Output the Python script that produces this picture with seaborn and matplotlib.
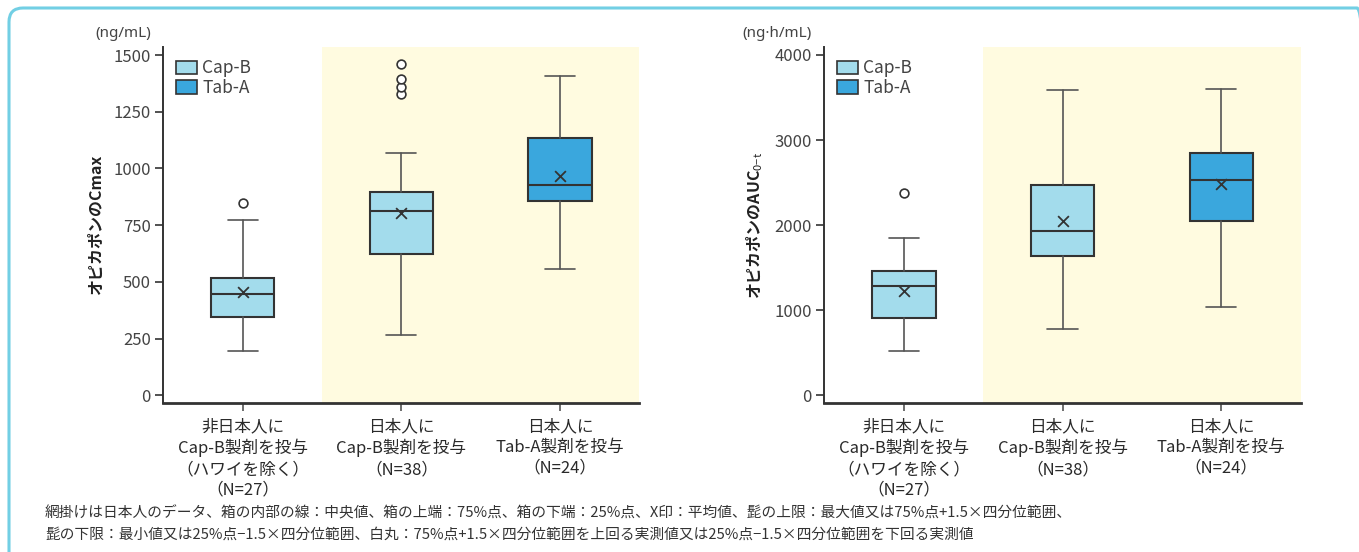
import numpy as np
import pandas as pd
import matplotlib
matplotlib.use("Agg")
import matplotlib.pyplot as plt
from matplotlib.patches import Patch, FancyBboxPatch
import seaborn as sns

# ---------------- data ----------------
groups = ["非日本人に\nCap-B製剤を投与\n（ハワイを除く）\n（N=27）",
          "日本人に\nCap-B製剤を投与\n（N=38）",
          "日本人に\nTab-A製剤を投与\n（N=24）"]
formulation = ["Cap-B", "Cap-B", "Tab-A"]

cmax_whislo = [195, 265, 559]
cmax_q1 = [346, 623, 858]
cmax_med = [447, 814, 928]
cmax_q3 = [519, 895, 1133]
cmax_whishi = [773, 1068, 1409]
cmax_mean = [456, 802, 969]
cmax_fliers = [[850], [1329, 1361, 1395, 1461], []]

auc_whislo = [520, 778, 1044]
auc_q1 = [911, 1634, 2045]
auc_med = [1290, 1927, 2526]
auc_q3 = [1462, 2467, 2854]
auc_whishi = [1851, 3590, 3601]
auc_mean = [1232, 2052, 2483]
auc_fliers = [[2378], [], []]

colors = {"Cap-B": "#a3dcec", "Tab-A": "#3aa7dd"}
SHADE = "#fffbe0"
DARK = "#333333"

sns.set_theme(style="ticks")
plt.rcParams["font.family"] = ["Noto Sans CJK JP", "DejaVu Sans"]
plt.rcParams["mathtext.fontset"] = "custom"
plt.rcParams["mathtext.rm"] = "Noto Sans CJK JP"
plt.rcParams["mathtext.it"] = "Noto Sans CJK JP"


def make_stats(whislo, q1, med, q3, whishi, mean, fliers):
    return [dict(whislo=a, q1=b, med=c, q3=d, whishi=e, mean=m, fliers=f, label="")
            for a, b, c, d, e, m, f in zip(whislo, q1, med, q3, whishi, mean, fliers)]


def plot_panel(ax, stats, ylim, yticks, unit, ylabel):
    ax.axvspan(0.5, 2.5, color=SHADE, zorder=0, lw=0)
    bp = ax.bxp(stats, positions=range(len(stats)), widths=0.4, patch_artist=True,
                showmeans=False, showfliers=False, manage_ticks=False,
                boxprops=dict(edgecolor=DARK, linewidth=1.5),
                medianprops=dict(color=DARK, linewidth=1.5),
                whiskerprops=dict(color="#555555", linewidth=1.2),
                capprops=dict(color="#555555", linewidth=1.2),
                capwidths=0.19)
    for box, f in zip(bp["boxes"], formulation):
        box.set_facecolor(colors[f])
        box.set_zorder(2)

    means = pd.DataFrame({"x": range(len(stats)), "y": [s["mean"] for s in stats]})
    sns.scatterplot(means, x="x", y="y", marker="x", s=60, color=DARK,
                    linewidth=1.3, zorder=4, ax=ax, legend=False)
    fl = pd.DataFrame([(i, v) for i, s in enumerate(stats) for v in s["fliers"]],
                      columns=["x", "y"])
    sns.scatterplot(fl, x="x", y="y", marker="o", s=40, facecolor="white",
                    edgecolor=DARK, linewidth=1.2, zorder=4, ax=ax, legend=False)

    ax.set_xlim(-0.5, 2.5)
    ax.set_ylim(*ylim)
    ax.set_yticks(yticks)
    ax.set_xticks(range(len(groups)))
    ax.set_xticklabels(groups, fontsize=12, color="#2a2a2a", linespacing=1.28)
    ax.tick_params(axis="y", labelsize=12, labelcolor="#444444", length=6,
                   width=1.2, color=DARK, pad=3)
    ax.tick_params(axis="x", length=6, width=1.2, color="#555555", pad=5)
    ax.set_xlabel("")
    ax.set_ylabel(ylabel, fontsize=11.5, fontweight="bold", color="#222222", labelpad=7)
    sns.despine(ax=ax)
    ax.spines["left"].set_linewidth(1.4)
    ax.spines["left"].set_color(DARK)
    ax.spines["bottom"].set_linewidth(2)
    ax.spines["bottom"].set_color(DARK)
    ax.text(-0.026, 1.04, unit, transform=ax.transAxes, fontsize=11,
            family=["Noto Sans"], color="#444444", ha="right", va="center")

    handles = [Patch(facecolor=colors[k], edgecolor=DARK, linewidth=1.2, label=k)
               for k in ["Cap-B", "Tab-A"]]
    ax.legend(handles=handles, loc="upper left", frameon=False, fontsize=12.5,
              handlelength=1.25, handleheight=0.85, handletextpad=0.3,
              labelspacing=0.1, borderaxespad=0.3, bbox_to_anchor=(0.0, 1.0),
              labelcolor="#444444")


fig = plt.figure(figsize=(13.59, 5.52), dpi=100)
ax1 = fig.add_axes([0.1202, 0.2705, 0.3503, 0.6438])
ax2 = fig.add_axes([0.6066, 0.2705, 0.3505, 0.6438])

plot_panel(ax1, make_stats(cmax_whislo, cmax_q1, cmax_med, cmax_q3, cmax_whishi,
                           cmax_mean, cmax_fliers),
           (-32, 1534), [0, 250, 500, 750, 1000, 1250, 1500], "(ng/mL)",
           "オピカポンのCmax")
plot_panel(ax2, make_stats(auc_whislo, auc_q1, auc_med, auc_q3, auc_whishi,
                           auc_mean, auc_fliers),
           (-85, 4090), [0, 1000, 2000, 3000, 4000], "(ng·h/mL)",
           "オピカポンのAUC$_{0\\mathrm{-}t}$")

fig.text(45 / 1359, 1 - 513 / 552,
         "網掛けは日本人のデータ、箱の内部の線：中央値、箱の上端：75%点、箱の下端：25%点、X印：平均値、"
         "髭の上限：最大値又は75%点+1.5×四分位範囲、",
         fontsize=10.6, color="#333333", va="center", ha="left")
fig.text(45 / 1359, 1 - 535 / 552,
         "髭の下限：最小値又は25%点−1.5×四分位範囲、白丸：75%点+1.5×四分位範囲を上回る実測値又は"
         "25%点−1.5×四分位範囲を下回る実測値",
         fontsize=10.6, color="#333333", va="center", ha="left")

# rounded frame; display coords start at the bottom-left of the image
border = FancyBboxPatch((9, -30), 1362, 574, boxstyle="round,pad=0,rounding_size=14",
                        transform=None, facecolor="none", edgecolor="#72cfe4",
                        linewidth=2.2, zorder=10)
fig.patches.append(border)

fig.savefig("out.png", dpi=100)
